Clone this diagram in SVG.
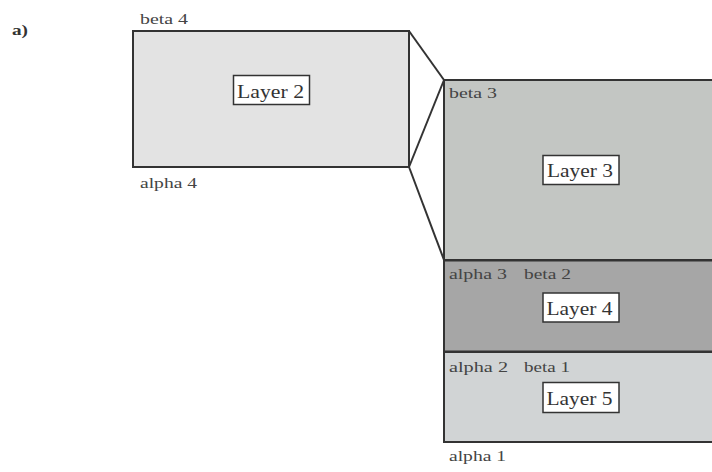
<svg xmlns="http://www.w3.org/2000/svg" width="712" height="472" viewBox="0 0 712 472">
<style>
.lyr{stroke:#333;stroke-width:2}
.lbl{fill:#fff;stroke:#333;stroke-width:1.5}
.t{font-family:"Liberation Serif",serif;font-size:15px;fill:#444}
.L{font-family:"Liberation Serif",serif;font-size:19.5px;fill:#333}
.c{stroke:#333;stroke-width:2;fill:none}
</style>
<rect width="712" height="472" fill="#fff"/>
<text x="12" y="35" class="t" style="font-weight:bold;fill:#333" textLength="16" lengthAdjust="spacingAndGlyphs">a)</text>
<g id="connectors">
<line class="c" x1="409" y1="31" x2="444" y2="80"/>
<line class="c" x1="409" y1="167" x2="444" y2="80"/>
<line class="c" x1="409" y1="167" x2="444" y2="260"/>
</g>
<g id="layer2">
<rect class="lyr" x="133" y="31" width="276" height="136" fill="#e3e3e3"/>
<rect class="lbl" x="233.5" y="75.5" width="76" height="29"/>
<text class="L" x="237" y="98" textLength="67" lengthAdjust="spacingAndGlyphs">Layer 2</text>
<text class="t" x="140" y="23.5" textLength="48" lengthAdjust="spacingAndGlyphs">beta 4</text>
<text class="t" x="140" y="188" textLength="57" lengthAdjust="spacingAndGlyphs">alpha 4</text>
</g>
<g id="layer3">
<path class="lyr" d="M720 80 H444 V260 H720" fill="#c3c6c3"/>
<rect class="lbl" x="543" y="155.5" width="76" height="29"/>
<text class="L" x="547" y="177" textLength="66" lengthAdjust="spacingAndGlyphs">Layer 3</text>
<text class="t" x="449" y="97.5" textLength="48" lengthAdjust="spacingAndGlyphs">beta 3</text>
</g>
<g id="layer4">
<path class="lyr" d="M720 260.5 H444 V351.5 H720" fill="#a6a6a6"/>
<rect class="lbl" x="543" y="293" width="76" height="29"/>
<text class="L" x="546.5" y="314.5" textLength="66" lengthAdjust="spacingAndGlyphs">Layer 4</text>
<text class="t" x="449" y="279" textLength="58" lengthAdjust="spacingAndGlyphs">alpha 3</text>
<text class="t" x="524" y="279" textLength="47" lengthAdjust="spacingAndGlyphs">beta 2</text>
</g>
<g id="layer5">
<path class="lyr" d="M720 352 H444 V442 H720" fill="#d1d4d5"/>
<rect class="lbl" x="543" y="382.5" width="76" height="30"/>
<text class="L" x="546.5" y="405" textLength="66" lengthAdjust="spacingAndGlyphs">Layer 5</text>
<text class="t" x="449" y="371.5" textLength="59" lengthAdjust="spacingAndGlyphs">alpha 2</text>
<text class="t" x="524" y="371.5" textLength="46" lengthAdjust="spacingAndGlyphs">beta 1</text>
<text class="t" x="449" y="461" textLength="57" lengthAdjust="spacingAndGlyphs">alpha 1</text>
</g>
</svg>
